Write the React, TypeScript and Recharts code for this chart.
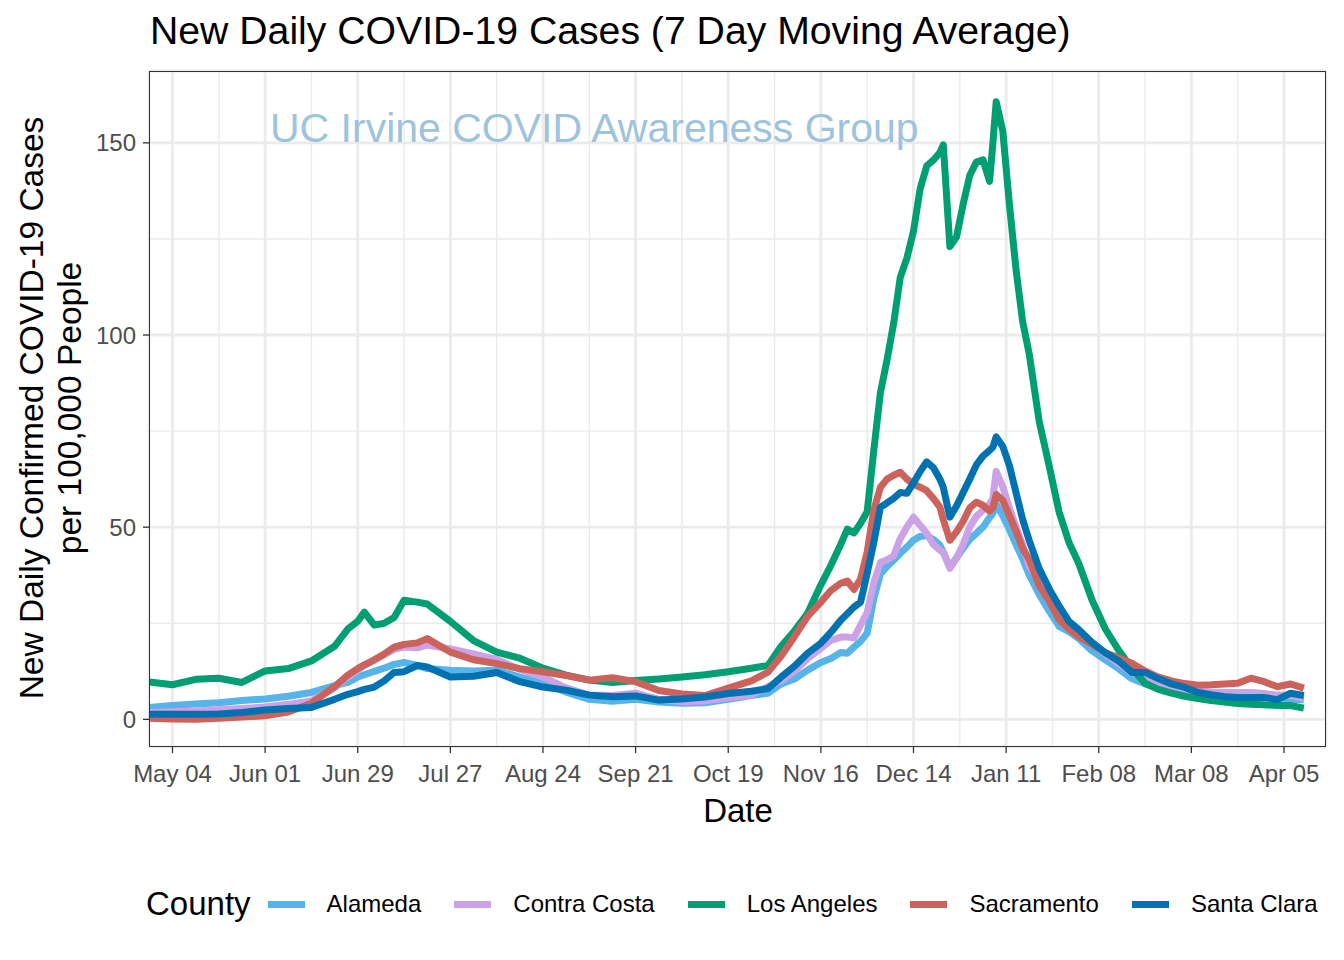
import React from "react";
import { LineChart, Line, XAxis, YAxis, CartesianGrid } from "recharts";

// Day offsets from 2020-05-04
const days = [
  -7, 0, 7, 14, 21, 28, 35, 42, 49, 53, 56, 58, 61, 64, 67, 70, 74, 77, 84, 91, 98, 105, 112, 119, 126, 133, 140, 147, 154, 161, 168, 175,
  180, 184, 188, 192, 196, 199, 202, 204, 206, 208, 210, 212, 214, 216, 218, 220, 222, 224, 226, 228, 230, 232, 233, 235, 237, 239, 241, 243, 245, 247, 248, 249, 251, 253, 255, 257, 259, 262, 265, 268, 271,
  274, 278, 282, 286, 290, 294, 298, 302, 306, 310, 314, 318, 322, 326, 330, 334, 338, 342,
];

const alameda = [
  3.1, 3.6, 4.0, 4.3, 4.9, 5.3, 6.0, 7.0, 8.8, 9.6, 11.0, 11.6, 12.5, 13.3, 14.3, 14.8, 14.0, 13.2, 12.8, 12.6, 12.8, 11.0, 9.4, 7.1, 5.2, 4.7, 5.2, 4.5, 4.2, 4.3, 5.2, 6.2,
  6.8, 9.2, 10.5, 12.8, 14.8, 15.8, 17.4, 17.2, 18.8, 20.3, 22.4, 31.5, 37.8, 39.8, 41.4, 43.2, 44.8, 46.6, 47.6, 47.8, 46.8, 45.3, 43.5, 39.6, 42, 44.5, 46.8, 48.4, 50, 52.5, 53.6, 56, 53, 49.4, 45.5, 41.8, 37.5, 32.5, 28.2, 24.2, 22.8,
  21, 17.8, 15.5, 13.2, 10.6, 9.2, 8.2, 7.5, 7.0, 6.8, 6.6, 6.4, 6.3, 6.2, 5.9, 5.6, 5.3, 5.0,
];

const contraCosta = [
  1.8, 2.0, 2.2, 2.5, 2.8, 3.2, 3.9, 4.8, 8.2, 11.0, 12.8, 14.0, 15.4, 16.8, 18.2, 18.8, 18.6, 19.3, 18.3, 17.0, 15.6, 13.0, 11.0, 8.2, 6.3, 6.2, 6.8, 5.2, 4.6, 4.8, 5.6, 6.3,
  8.5, 10.0, 12.5, 15.8, 18.5, 20.5, 21.4, 21.4, 21.2, 24.5, 27.8, 35.5, 40.8, 41.5, 42.5, 47, 50, 52.6, 50.5, 48.4, 45.5, 44, 43.5, 39.3, 42, 45.5, 50, 52.8, 54.4, 56, 57.5, 64.5, 60.5, 55, 50, 45.5, 39.8, 36.4, 33.8, 28.5, 24.8,
  22.5, 20, 17, 14.5, 12.2, 10.4, 9.0, 8.2, 7.6, 7.3, 7.1, 7.0, 7.0, 7.0, 6.7, 6.3, 6.2, 5.5,
];

const losAngeles = [
  9.7, 9.0, 10.4, 10.7, 9.6, 12.6, 13.2, 15.2, 19.0, 23.5, 25.5, 27.9, 24.5, 25.0, 26.5, 31.0, 30.5, 30.0, 25.5, 20.5, 17.5, 15.9, 13.3, 11.5, 10.2, 9.6, 10.1, 10.5, 11.0, 11.6, 12.4, 13.3,
  14.0, 19.0, 23.0, 27.6, 35.0, 40, 45.5, 49.5, 48.5, 51, 54, 70, 85, 93.5, 103, 115, 120, 127, 138, 144, 145.5, 147.5, 149.5, 123, 125.5, 134, 141.5, 145, 145.6, 140, 150, 160.7, 153, 134, 117, 103.5, 95, 77.5, 66, 54, 46,
  40.5, 31, 23.5, 18, 13.2, 9.4, 7.8, 6.8, 6.0, 5.4, 4.9, 4.5, 4.1, 3.9, 3.8, 3.6, 3.6, 2.9,
];

const sacramento = [
  0.3, 0.1, 0.0, 0.3, 0.6, 0.9, 1.9, 4.2, 8.5, 11.5, 13.2, 14.2, 15.5, 17.0, 18.8, 19.5, 19.9, 21.0, 17.5, 15.5, 14.5, 13.2, 12.4, 11.4, 10.2, 10.8, 9.8, 7.5, 6.6, 6.2, 8.1, 10.0,
  12.3, 16.5, 21.5, 26.8, 30.5, 33.5, 35.4, 36, 33.8, 36.5, 43.5, 54.4, 60.4, 62.5, 63.5, 64.3, 62.5, 61.2, 60.4, 59.5, 57.5, 55.2, 52, 46.6, 48.8, 51.5, 55, 56.5, 55.7, 54.2, 55, 58.5, 57, 53, 49, 44.5, 41.5, 34.8, 30.8, 26, 23.5,
  21.5, 19.5, 17.3, 16.0, 14.6, 12.6, 11.0, 10.0, 9.3, 8.9, 9.0, 9.2, 9.4, 10.7, 9.8, 8.5, 9.2, 8.1,
];

const santaClara = [
  1.3, 1.3, 1.3, 1.4, 1.8, 2.4, 2.8, 3.1, 5.2, 6.5, 7.2, 7.8, 8.4, 10.0, 12.2, 12.4, 14.0, 13.6, 11.0, 11.2, 12.2, 9.8, 8.4, 7.6, 6.3, 5.9, 6.1, 5.0, 5.3, 5.8, 6.7, 7.3,
  8.0, 11.0, 13.8, 17.2, 19.8, 22.6, 25.8, 27.5, 29.2, 30.5, 38, 46, 55.2, 56.3, 57.5, 59, 58.8, 61.5, 64.5, 67, 65.5, 62.5, 60.4, 52.6, 55.5, 59, 62.5, 66.2, 68.5, 70, 70.8, 73.5, 71, 66, 59, 52, 46.5, 39.2, 34, 29.5, 25.5,
  23.3, 20.0, 17.3, 15.2, 12.2, 12.2, 10.6, 9.2, 8.3, 7.0, 6.4, 5.9, 5.7, 5.7, 5.7, 5.1, 6.8, 6.2,
];

const counties = ["Alameda", "Contra Costa", "Los Angeles", "Sacramento", "Santa Clara"];
const seriesValues = [alameda, contraCosta, losAngeles, sacramento, santaClara];
const colors = ["#56B4E9", "#CCA1E6", "#009E73", "#CC625C", "#0072B2"];

const xMajorTicks = [0, 28, 56, 84, 112, 140, 168, 196, 224, 252, 280, 308, 336];
const xTickLabels = ["May 04", "Jun 01", "Jun 29", "Jul 27", "Aug 24", "Sep 21", "Oct 19", "Nov 16", "Dec 14", "Jan 11", "Feb 08", "Mar 08", "Apr 05"];
const xMinorTicks = [14, 42, 70, 98, 126, 154, 182, 210, 238, 266, 294, 322];
const yMajorTicks = [0, 50, 100, 150];
const yMinorTicks = [25, 75, 125];

const xDomain: [number, number] = [-7.1, 348.7];
const yDomain: [number, number] = [-7.2, 168.7];

const rows = days.map((d, i) => {
  const r: Record<string, number> = { day: d };
  counties.forEach((c, k) => {
    r[c] = seriesValues[k][i];
  });
  return r;
});

const FONT = "'Liberation Sans', Arial, Helvetica, sans-serif";

export default function App() {
  return (
    <div style={{ position: "absolute", left: 0, top: 0, width: 1344, height: 960, background: "#fff", fontFamily: FONT }}>
      <LineChart width={1344} height={960} data={rows} margin={{ top: 71, right: 18, bottom: 173, left: 89 }}>
        <XAxis xAxisId="minor" dataKey="day" type="number" domain={xDomain} ticks={xMinorTicks} hide allowDataOverflow />
        <YAxis yAxisId="minor" type="number" domain={yDomain} ticks={yMinorTicks} hide allowDataOverflow />
        <CartesianGrid xAxisId="minor" yAxisId="minor" stroke="#EBEBEB" strokeWidth={1.4} />
        <XAxis
          xAxisId="main"
          dataKey="day"
          type="number"
          domain={xDomain}
          ticks={xMajorTicks}
          interval={0}
          allowDataOverflow
          height={40}
          tickSize={6}
          tickMargin={12}
          axisLine={false}
          tickLine={{ stroke: "#333333", strokeWidth: 1.3 }}
          tick={{ fill: "#4D4D4D", fontSize: 24, fontFamily: FONT }}
          tickFormatter={(v: number) => xTickLabels[xMajorTicks.indexOf(v)] ?? ""}
        />
        <YAxis
          yAxisId="main"
          type="number"
          domain={yDomain}
          ticks={yMajorTicks}
          interval={0}
          allowDataOverflow
          width={60}
          tickSize={6}
          tickMargin={7}
          axisLine={false}
          tickLine={{ stroke: "#333333", strokeWidth: 1.3 }}
          tick={{ fill: "#4D4D4D", fontSize: 24, fontFamily: FONT }}
        />
        <CartesianGrid xAxisId="main" yAxisId="main" stroke="#EBEBEB" strokeWidth={2.8} />
        {counties.map((c, k) => (
          <Line
            key={c}
            xAxisId="main"
            yAxisId="main"
            type="linear"
            dataKey={c}
            stroke={colors[k]}
            strokeWidth={7}
            strokeLinejoin="round"
            dot={false}
            activeDot={false}
            isAnimationActive={false}
          />
        ))}
      </LineChart>

      {/* panel border */}
      <div
        style={{
          position: "absolute",
          left: 149,
          top: 71,
          width: 1177,
          height: 676,
          border: "1.3px solid #333333",
          boxSizing: "border-box",
          pointerEvents: "none",
        }}
      />

      <svg width={1344} height={960} style={{ position: "absolute", left: 0, top: 0, pointerEvents: "none" }}>
        <text x={150} y={44} fontSize={39.2} fill="#000" fontFamily={FONT}>
          New Daily COVID-19 Cases (7 Day Moving Average)
        </text>
        <text x={270} y={142} fontSize={41} fill="#9EC3DC" fontFamily={FONT}>
          UC Irvine COVID Awareness Group
        </text>
        <text transform="translate(43,408) rotate(-90)" textAnchor="middle" fontSize={33.5} fill="#000" fontFamily={FONT}>
          New Daily Confirmed COVID-19 Cases
        </text>
        <text transform="translate(81,408) rotate(-90)" textAnchor="middle" fontSize={33.5} fill="#000" fontFamily={FONT}>
          per 100,000 People
        </text>
        <text x={738} y={822} textAnchor="middle" fontSize={33} fill="#000" fontFamily={FONT}>
          Date
        </text>
      </svg>

      {/* legend */}
      <div
        style={{
          position: "absolute",
          left: 146,
          top: 884,
          height: 40,
          display: "flex",
          alignItems: "center",
          lineHeight: "40px",
          fontFamily: FONT,
          whiteSpace: "nowrap",
        }}
      >
        <span style={{ fontSize: 33, marginRight: 17, color: "#000" }}>County</span>
        {counties.map((c, k) => (
          <React.Fragment key={c}>
            <span style={{ display: "inline-block", width: 37, height: 7, background: colors[k], marginRight: 22 }} />
            <span style={{ fontSize: 24, color: "#000", marginRight: k < counties.length - 1 ? 33 : 0 }}>{c}</span>
          </React.Fragment>
        ))}
      </div>
    </div>
  );
}
